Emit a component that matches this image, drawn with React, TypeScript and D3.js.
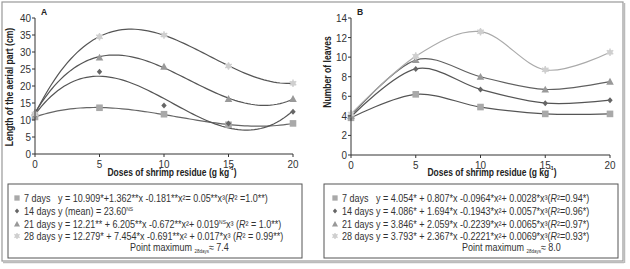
import React from 'react';
import * as d3 from 'd3';

// ---------- DATA ----------
const doses = [0, 5, 10, 15, 20];
const seriesNames = ['7 days', '14 days', '21 days', '28 days'];

// Panel A: length of the aerial part (cm)
const lengthA7 = [10.9, 13.6, 11.7, 8.6, 9.0];
const lengthA14 = [11.3, 24.2, 14.3, 9.0, 12.4];
const lengthA21 = [12.2, 28.4, 25.7, 16.2, 16.2];
const lengthA28 = [11.8, 34.5, 35.0, 25.9, 20.8];

// Panel B: number of leaves
const leavesB7 = [3.8, 6.2, 4.9, 4.2, 4.2];
const leavesB14 = [3.9, 8.8, 6.7, 5.3, 5.6];
const leavesB21 = [4.0, 9.7, 8.0, 6.7, 7.5];
const leavesB28 = [4.2, 10.1, 12.6, 8.7, 10.5];

const xTicks = [0, 5, 10, 15, 20];
const yTicksA = [0, 5, 10, 15, 20, 25, 30, 35, 40];
const yTicksB = [0, 2, 4, 6, 8, 10, 12, 14];

const titleA = 'Length of the aerial part (cm)';
const titleB = 'Number of leaves';

// legend lines; ^{..} = superscript, _{..} = subscript, ~{..} = italic
const legendA = [
  '7 days   y = 10.909*+1.362**x -0.181**x²= 0.05**x³(~{R}² =1.0**)',
  '14 days y (mean) = 23.60^{NS}',
  '21 days y = 12.21** + 6.205**x -0.672**x²+ 0.019^{NS}x³ (~{R}² = 1.0**)',
  '28 days y = 12.279* + 7.454*x -0.691**x² + 0.017*x³ (~{R}² = 0.99**)',
];
const pointMaxA = 'Point maximum _{28days}≈ 7.4';
const legendB = [
  '7 days   y = 4.054* + 0.807*x -0.0964*x²+ 0.0028*x³(~{R}²=0.94*)',
  '14 days y = 4.086* + 1.694*x -0.1943*x²+ 0.0057*x³(~{R}²=0.96*)',
  '21 days y = 3.846* + 2.059*x -0.2239*x²+ 0.0065*x³(~{R}²=0.97*)',
  '28 days y = 3.793* + 2.367*x -0.2221*x²+ 0.0069*x³(~{R}²=0.93*)',
];
const pointMaxB = 'Point maximum _{28days}≈ 8.0';

// ---------- STYLE ----------
const FONT = "'Liberation Sans', Arial, sans-serif";
const markerFill = ['#a9a9a9', '#666666', '#999999', '#cfcfcf'];
const lineColA = ['#666', '#555', '#555', '#555'];
const lineColB = ['#555', '#555', '#606060', '#aaaaaa'];

// cubic least squares fit
function cubicFit(xs: number[], ys: number[]): number[] {
  const n = 4;
  const A: number[][] = Array.from({ length: n }, () => Array(n + 1).fill(0));
  for (let i = 0; i < xs.length; i++) {
    const p = [1, xs[i], xs[i] ** 2, xs[i] ** 3];
    for (let r = 0; r < n; r++) {
      for (let c = 0; c < n; c++) A[r][c] += p[r] * p[c];
      A[r][n] += p[r] * ys[i];
    }
  }
  for (let i = 0; i < n; i++) {
    let m = i;
    for (let k = i + 1; k < n; k++) if (Math.abs(A[k][i]) > Math.abs(A[m][i])) m = k;
    [A[i], A[m]] = [A[m], A[i]];
    for (let k = 0; k < n; k++) {
      if (k === i) continue;
      const f = A[k][i] / A[i][i];
      for (let c = i; c <= n; c++) A[k][c] -= f * A[i][c];
    }
  }
  return A.map((row, i) => row[n] / row[i]);
}

type NTProps = {
  x: number; y: number; size: number; sx?: number; anchor?: string; weight?: string;
  rotate?: number; fill?: string; children: React.ReactNode;
};
function NText({ x, y, size, sx = 0.9, anchor = 'start', weight = 'normal', rotate = 0, fill = '#333', children }: NTProps) {
  return (
    <text
      transform={`translate(${x},${y}) rotate(${rotate}) scale(${sx},1)`}
      textAnchor={anchor} fontSize={size} fontWeight={weight} fill={fill} fontFamily={FONT}
      style={{ whiteSpace: 'pre' }}
    >
      {children}
    </text>
  );
}

function Marker({ kind, x, y, size = 1 }: { kind: number; x: number; y: number; size?: number }) {
  if (kind === 0) {
    const s = 3.3 * size;
    return <rect x={x - s} y={y - s} width={2 * s} height={2 * s} fill={markerFill[0]} />;
  }
  if (kind === 1) {
    const s = 3 * size;
    return <path d={`M${x},${y - s}L${x + s * 0.9},${y}L${x},${y + s}L${x - s * 0.9},${y}Z`} fill={markerFill[1]} />;
  }
  if (kind === 2) {
    const s = 3.8 * size;
    return <path d={`M${x},${y - s}L${x + s},${y + s * 0.8}L${x - s},${y + s * 0.8}Z`} fill={markerFill[2]} />;
  }
  const sym = d3.symbol(d3.symbolAsterisk, 40 * size * size)();
  return (
    <g transform={`translate(${x},${y})`}>
      <circle r={2.6 * size} fill={markerFill[3]} />
      <path d={sym || ''} stroke={markerFill[3]} strokeWidth={1.4} fill="none" />
    </g>
  );
}

function RichText({ text, x, y, size }: { text: string; x: number; y: number; size: number }) {
  const parts: React.ReactNode[] = [];
  const re = /(\^\{[^}]*\}|_\{[^}]*\}|~\{[^}]*\})/g;
  let last = 0;
  let m: RegExpExecArray | null;
  let k = 0;
  while ((m = re.exec(text))) {
    if (m.index > last) parts.push(<tspan key={k++}>{text.slice(last, m.index)}</tspan>);
    const t = m[0];
    const inner = t.slice(2, -1);
    if (t[0] === '^') {
      parts.push(<tspan key={k++} fontSize={size * 0.55} baselineShift="70%">{inner}</tspan>);
    } else if (t[0] === '_') {
      parts.push(<tspan key={k++} fontSize={size * 0.5} baselineShift="-30%">{inner}</tspan>);
    } else {
      parts.push(<tspan key={k++} fontStyle="italic">{inner}</tspan>);
    }
    last = m.index + t.length;
  }
  if (last < text.length) parts.push(<tspan key={k++}>{text.slice(last)}</tspan>);
  return <NText x={x} y={y} size={size} sx={0.9}>{parts}</NText>;
}

type PanelProps = {
  letter: string;
  x0: number; x1: number; yTop: number; yBot: number;
  yMax: number; yTicks: number[];
  series: number[][];
  lineCols: string[];
  mode: 'fit' | 'smooth';
  yTitle: string; yTitleX: number; yTitleY: number;
  xTitleX: number;
  legend: string[]; pointMax: string;
  boxX0: number; boxX1: number; legX: number; pmX: number;
};

function Panel(p: PanelProps) {
  const x = d3.scaleLinear().domain([0, 20]).range([p.x0, p.x1]);
  const y = d3.scaleLinear().domain([0, p.yMax]).range([p.yBot, p.yTop]);
  const line = d3.line<[number, number]>().x(d => x(d[0])).y(d => y(d[1]));
  const smooth = d3.line<[number, number]>().x(d => x(d[0])).y(d => y(d[1])).curve(d3.curveCatmullRom.alpha(0));
  const rows = [198, 211, 224, 236];
  return (
    <g>
      {/* curves */}
      {p.series.map((vals, i) => {
        let dstr: string | null;
        if (p.mode === 'fit') {
          const c = cubicFit(doses, vals);
          const pts: [number, number][] = d3.range(0, 20.001, 0.25).map(t => [t, c[0] + c[1] * t + c[2] * t * t + c[3] * t * t * t]);
          dstr = line(pts);
        } else {
          dstr = smooth(doses.map((d, j) => [d, vals[j]] as [number, number]));
        }
        return <path key={'l' + i} d={dstr || ''} fill="none" stroke={p.lineCols[i]} strokeWidth={1.2} />;
      })}
      {/* markers */}
      {p.series.map((vals, i) =>
        vals.map((v, j) => <Marker key={`m${i}-${j}`} kind={i} x={x(doses[j])} y={y(v)} />)
      )}
      {/* axes */}
      <line x1={p.x0} x2={p.x0} y1={p.yTop} y2={p.yBot} stroke="#333" strokeWidth={1} />
      <line x1={p.x0} x2={p.x1} y1={p.yBot} y2={p.yBot} stroke="#333" strokeWidth={1} />
      {p.yTicks.map(t => (
        <g key={'yt' + t}>
          <line x1={p.x0 - 3} x2={p.x0} y1={y(t)} y2={y(t)} stroke="#333" />
          <NText x={p.x0 - 4} y={y(t) + 4} anchor="end" size={11}>{t}</NText>
        </g>
      ))}
      {xTicks.map(t => (
        <g key={'xt' + t}>
          <line x1={x(t)} x2={x(t)} y1={p.yBot} y2={p.yBot + 3} stroke="#333" />
          <NText x={x(t)} y={p.yBot + 13.5} anchor="middle" size={11}>{t}</NText>
        </g>
      ))}
      <NText x={p.x0 + 6} y={15} size={9.5} weight="bold" fill="#222">{p.letter}</NText>
      <NText x={p.yTitleX} y={p.yTitleY} rotate={-90} anchor="middle" size={10} weight="bold" fill="#222" sx={0.86}>{p.yTitle}</NText>
      <NText x={p.xTitleX} y={175.5} anchor="middle" size={10} weight="bold" fill="#222" sx={0.85}>
        Doses of shrimp residue (g kg<tspan fontSize={6} baselineShift="80%">-1</tspan>)
      </NText>
      {/* legend */}
      <rect x={p.boxX0} y={184} width={p.boxX1 - p.boxX0} height={74} fill="white" stroke="#555" strokeWidth={1} />
      {p.legend.map((t, i) => (
        <g key={'lg' + i}>
          <Marker kind={i} x={p.legX - 7} y={rows[i]} size={0.8} />
          <RichText text={t} x={p.legX} y={rows[i] + 3.5} size={10} />
        </g>
      ))}
      <RichText text={p.pointMax} x={p.pmX} y={250.5} size={10} />
    </g>
  );
}

export default function App() {
  return (
    <svg width={630} height={269} style={{ position: 'absolute', left: 0, top: 0, background: 'white' }}>
      <rect x={0} y={0} width={630} height={269} fill="white" />
      <rect x={2} y={2} width={621} height={259} fill="none" stroke="#999" strokeWidth={1.2} />
      <line x1={3} x2={624} y1={262.5} y2={262.5} stroke="#bbb" strokeWidth={1.5} />
      <line x1={624.5} x2={624.5} y1={3} y2={263} stroke="#bbb" strokeWidth={1.5} />
      <Panel
        letter="A" x0={35} x1={293} yTop={18} yBot={154} yMax={40} yTicks={yTicksA}
        series={[lengthA7, lengthA14, lengthA21, lengthA28]} lineCols={lineColA} mode="fit"
        yTitle={titleA} yTitleX={13} yTitleY={87} xTitleX={172}
        legend={legendA} pointMax={pointMaxA} boxX0={8} boxX1={302} legX={24} pmX={130}
      />
      <Panel
        letter="B" x0={351} x1={610} yTop={18} yBot={155} yMax={14} yTicks={yTicksB}
        series={[leavesB7, leavesB14, leavesB21, leavesB28]} lineCols={lineColB} mode="smooth"
        yTitle={titleB} yTitleX={331} yTitleY={72} xTitleX={492}
        legend={legendB} pointMax={pointMaxB} boxX0={324} boxX1={618} legX={342} pmX={462}
      />
    </svg>
  );
}
